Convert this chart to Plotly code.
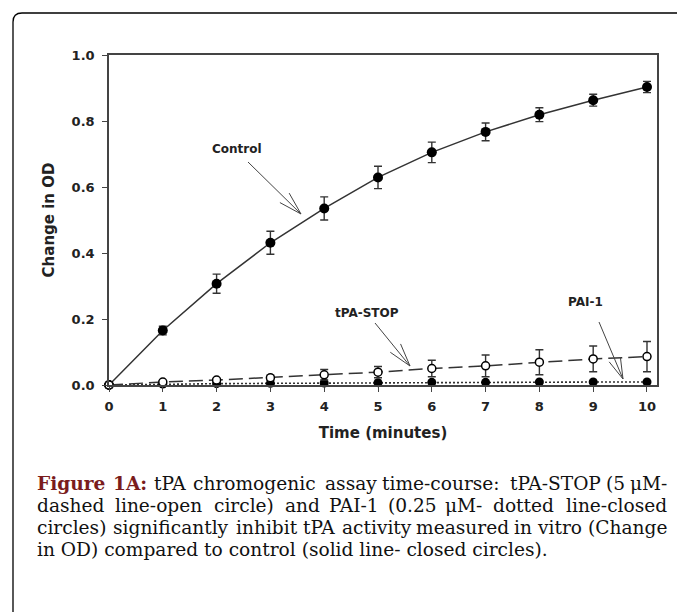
import math
import plotly.graph_objects as go

# ---------------- data ----------------
time_min = [0, 1, 2, 3, 4, 5, 6, 7, 8, 9, 10]
control = [0.0, 0.165, 0.307, 0.431, 0.535, 0.629, 0.705, 0.767, 0.819, 0.863, 0.903]
control_err = [0.0, 0.013, 0.029, 0.035, 0.035, 0.034, 0.031, 0.027, 0.021, 0.018, 0.017]
tpa_stop = [0.0, 0.009, 0.015, 0.022, 0.031, 0.039, 0.050, 0.058, 0.069, 0.079, 0.086]
tpa_stop_err = [0.0, 0.004, 0.005, 0.008, 0.016, 0.017, 0.025, 0.033, 0.038, 0.039, 0.046]
pai1 = [0.0, 0.003, 0.004, 0.005, 0.006, 0.007, 0.008, 0.008, 0.009, 0.009, 0.009]
pai1_err = [0.0, 0.003, 0.003, 0.004, 0.004, 0.004, 0.005, 0.005, 0.005, 0.005, 0.005]

x_ticks = [0, 1, 2, 3, 4, 5, 6, 7, 8, 9, 10]
y_ticks = [0.0, 0.2, 0.4, 0.6, 0.8, 1.0]
y_tick_text = ["0.0", "0.2", "0.4", "0.6", "0.8", "1.0"]

caption_label = "Figure 1A:"
caption_lines = [
    ("Figure 1A: tPA chromogenic assay time-course: tPA-STOP (5 μM-", True),
    ("dashed line-open circle) and PAI-1 (0.25 μM- dotted line-closed", True),
    ("circles) significantly inhibit tPA activity measured in vitro (Change", True),
    ("in OD) compared to control (solid line- closed circles).", False),
]

# ---------------- layout geometry ----------------
W, H = 677, 612
L, R, T, B = 109, 20, 55, 227
PW, PH = W - L - R, H - T - B
X_MAX = 10.186

def px_x(px):  # pixel -> paper
    return (px - L) / PW

def px_y(py):
    return (T + PH - py) / PH

def dx(px):  # pixel -> data
    return (px - L) / PW * X_MAX

def dy(py):
    return (T + PH - py) / PH * 1.0

AX = "#444444"
INK = "#222222"
tick_font = dict(family="DejaVu Sans", size=13, color=INK, weight="bold")

fig = go.Figure()

fig.add_trace(go.Scatter(
    x=time_min, y=control, mode="lines+markers", name="Control",
    line=dict(color="#333333", width=1.5),
    marker=dict(symbol="circle", size=10, color="#000000"),
    error_y=dict(type="data", array=control_err, color="#333333", thickness=1.4, width=4),
    cliponaxis=False,
))
fig.add_trace(go.Scatter(
    x=time_min, y=pai1, mode="lines+markers", name="PAI-1",
    line=dict(color="#333333", width=1.6, dash="2px,2px"),
    marker=dict(symbol="circle", size=9, color="#000000"),
    error_y=dict(type="data", array=pai1_err, color="#333333", thickness=1.2, width=3),
    cliponaxis=False,
))
fig.add_trace(go.Scatter(
    x=time_min, y=tpa_stop, mode="lines+markers", name="tPA-STOP",
    line=dict(color="#333333", width=1.5, dash="14px,6px"),
    marker=dict(symbol="circle", size=8, color="#ffffff", line=dict(color="#000000", width=1.5)),
    error_y=dict(type="data", array=tpa_stop_err, color="#333333", thickness=1.4, width=4),
    cliponaxis=False,
))

shapes = []
annotations = []

# outer rounded border (extends beyond the right and bottom edges)
rb = 9
box_path = (f"M {px_x(13)},{px_y(660)} L {px_x(13)},{px_y(13 + rb)} "
            f"Q {px_x(13)},{px_y(13)} {px_x(13 + rb)},{px_y(13)} L {px_x(720)},{px_y(13)}")
shapes.append(dict(type="path", xref="paper", yref="paper", path=box_path,
                   line=dict(color="#000000", width=1.3)))

# open-headed annotation arrows
def arrow(tail, tip, blen=24, ang=16):
    vx, vy = tail[0] - tip[0], tail[1] - tip[1]
    base = math.atan2(vy, vx)
    segs = [(tail, tip)]
    for s in (-1, 1):
        a = base + s * math.radians(ang)
        segs.append((tip, (tip[0] + blen * math.cos(a), tip[1] + blen * math.sin(a))))
    for p0, p1 in segs:
        shapes.append(dict(type="line", xref="x", yref="y",
                           x0=dx(p0[0]), y0=dy(p0[1]), x1=dx(p1[0]), y1=dy(p1[1]),
                           line=dict(color="#444444", width=1)))

arrow((248, 162), (301, 214))
arrow((375, 323), (410, 366))
arrow((599, 322), (623, 379), blen=22)

label_font = dict(family="DejaVu Sans", size=12, color=INK, weight="bold")
for txt, (px, py) in [("Control", (237, 149)), ("tPA-STOP", (367, 313)), ("PAI-1", (585, 302))]:
    annotations.append(dict(text=txt, x=dx(px), y=dy(py), xref="x", yref="y",
                            showarrow=False, font=label_font,
                            xanchor="center", yanchor="middle"))

# ---------------- caption (justified, word by word) ----------------
CAP_SIZE = 18.6
CAP_LEFT, CAP_RIGHT = 35, 669
ADV = {
    " ": .318, "a": .596, "b": .640, "c": .560, "d": .640, "e": .592, "f": .371, "g": .640,
    "h": .644, "i": .320, "j": .313, "k": .610, "l": .320, "m": .948, "n": .644, "o": .602,
    "p": .640, "q": .640, "r": .478, "s": .513, "t": .402, "u": .644, "v": .565, "w": .833,
    "x": .562, "y": .565, "z": .522, "A": .722, "C": .732, "D": .830, "F": .683, "I": .371,
    "M": .920, "O": .787, "P": .674, "S": .687, "T": .678, "(": .390, ")": .390, "-": .338,
    ":": .338, ".": .318, "μ": .650,
}

def word_w(w, bold=False):
    s = sum(ADV.get(ch, .636 if ch.isdigit() else .6) for ch in w) * CAP_SIZE * 1.03
    return s * (1.1 if bold else 1.0)

cap_font = dict(family="DejaVu Serif", size=CAP_SIZE, color="#111111")
line_y = [483, 505, 527, 549]
for (line, justify), yy in zip(caption_lines, line_y):
    if not justify:
        annotations.append(dict(text=line, x=px_x(CAP_LEFT), y=px_y(yy),
                                xref="paper", yref="paper", showarrow=False, font=cap_font,
                                xanchor="left", yanchor="middle"))
        continue
    words = line.split(" ")
    n = len(words)
    bold_n = len(caption_label.split(" ")) if line.startswith(caption_label) else 0
    widths = [word_w(w, i < bold_n) for i, w in enumerate(words)]
    gap = (CAP_RIGHT - CAP_LEFT - sum(widths)) / (n - 1)
    for i, w in enumerate(words):
        if i < bold_n:
            txt = f"<b><span style='color:#7a1c1c'>{w}</span></b>"
        else:
            txt = w
        if i >= n / 2:
            xr = CAP_RIGHT - sum(widths[i + 1:]) - gap * (n - 1 - i)
            xa, xx = "right", xr
        else:
            xa, xx = "left", CAP_LEFT + sum(widths[:i]) + gap * i
        annotations.append(dict(text=txt, x=px_x(xx), y=px_y(yy),
                                xref="paper", yref="paper", showarrow=False, font=cap_font,
                                xanchor=xa, yanchor="middle"))

fig.update_layout(
    width=W, height=H,
    margin=dict(l=L, r=R, t=T, b=B, autoexpand=False),
    paper_bgcolor="#ffffff", plot_bgcolor="#ffffff",
    showlegend=False,
    shapes=shapes, annotations=annotations,
    xaxis=dict(range=[0, X_MAX], tickvals=x_ticks, ticks="outside", ticklen=5,
               tickcolor=AX, tickwidth=1.2, showline=True, linecolor=AX, linewidth=1.5,
               mirror=True, showgrid=False, zeroline=False, tickfont=tick_font,
               ticklabelstandoff=4,
               title=dict(text="Time (minutes)", standoff=14,
                          font=dict(family="DejaVu Sans", size=15, color=INK, weight="bold"))),
    yaxis=dict(range=[0, 1.0], tickvals=y_ticks, ticktext=y_tick_text, ticks="outside",
               ticklen=5, tickcolor=AX, tickwidth=1.2, showline=True, linecolor=AX,
               linewidth=1.5, mirror=True, showgrid=False, zeroline=False,
               tickfont=tick_font, ticklabelstandoff=5,
               title=dict(text="Change in OD", standoff=13,
                          font=dict(family="DejaVu Sans", size=15, color=INK, weight="bold"))),
)

fig.write_html("out.html")
